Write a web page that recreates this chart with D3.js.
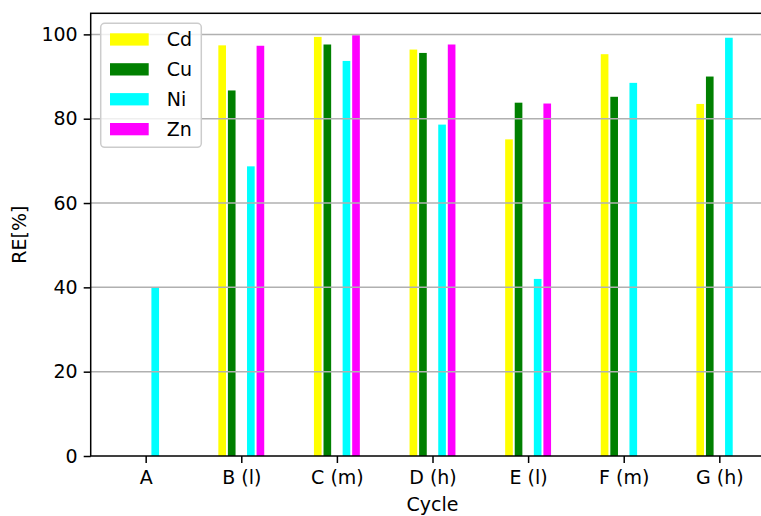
<!DOCTYPE html>
<html>
<head>
<meta charset="utf-8">
<script src="https://cdn.jsdelivr.net/npm/d3@7"></script>
<style>
  html, body { margin: 0; padding: 0; background: #fff; }
  svg { display: block; font-family: "DejaVu Sans", sans-serif; }
</style>
</head>
<body>
<svg id="chart" width="761" height="516"></svg>
<script>
// Removal efficiency per cycle for each metal
const categories = ["A", "B (l)", "C (m)", "D (h)", "E (l)", "F (m)", "G (h)"];
const metals = ["Cd", "Cu", "Ni", "Zn"];
const Cd = [0, 97.4, 99.4, 96.4, 75.1, 95.3, 83.5];
const Cu = [0, 86.7, 97.6, 95.6, 83.8, 85.2, 90.0];
const Ni = [40.0, 68.7, 93.7, 78.6, 42.0, 88.5, 99.2];
const Zn = [0, 97.3, 99.8, 97.6, 83.6, 0, 0];
const yTicks = [0, 20, 40, 60, 80, 100];

const seriesValues = { Cd, Cu, Ni, Zn };
const colors = { Cd: "#ffff00", Cu: "#008000", Ni: "#00ffff", Zn: "#ff00ff" };
const offsets = { Cd: -0.2, Cu: -0.1, Ni: 0.1, Zn: 0.2 };
const barWidth = 0.08;

const svg = d3.select("#chart");
const fontSize = 19;

const plot = { left: 90.7, right: 774.3, top: 13.3, bottom: 456 };

const x = d3.scaleLinear().domain([-0.575, 6.575]).range([plot.left, plot.right]);
const y = d3.scaleLinear().domain([0, 105]).range([plot.bottom, plot.top]);

// Bars
const barData = [];
metals.forEach(m => {
  seriesValues[m].forEach((v, i) => barData.push({ metal: m, i, v }));
});
svg.append("g").selectAll("rect").data(barData).join("rect")
  .attr("x", d => x(d.i + offsets[d.metal] - barWidth / 2))
  .attr("width", d => x(barWidth) - x(0))
  .attr("y", d => y(d.v))
  .attr("height", d => y(0) - y(d.v))
  .attr("fill", d => colors[d.metal]);

// Horizontal grid lines (drawn above the bars)
svg.append("g").selectAll("line").data(yTicks.filter(t => t > 0)).join("line")
  .attr("x1", plot.left).attr("x2", plot.right)
  .attr("y1", d => y(d)).attr("y2", d => y(d))
  .attr("stroke", "#b0b0b0").attr("stroke-width", 1.5);

// Axes
const xAxis = d3.axisBottom(x)
  .tickValues(d3.range(categories.length))
  .tickFormat(i => categories[i])
  .tickSize(7).tickPadding(8);
const gx = svg.append("g").attr("transform", `translate(0,${plot.bottom})`).call(xAxis);

const yAxis = d3.axisLeft(y).tickValues(yTicks).tickSize(7).tickPadding(6);
const gy = svg.append("g").attr("transform", `translate(${plot.left},0)`).call(yAxis);

[gx, gy].forEach(g => {
  g.select(".domain").remove();
  g.selectAll(".tick line").attr("stroke", "#000").attr("stroke-width", 1.5);
  g.selectAll(".tick text")
    .attr("fill", "#000")
    .style("font-size", fontSize + "px")
    .style("font-family", "'DejaVu Sans', sans-serif");
});

// Frame
svg.append("rect")
  .attr("x", plot.left).attr("y", plot.top)
  .attr("width", plot.right - plot.left).attr("height", plot.bottom - plot.top)
  .attr("fill", "none").attr("stroke", "#000").attr("stroke-width", 1.5);

// Axis titles
svg.append("text")
  .attr("x", x(3)).attr("y", 511)
  .attr("text-anchor", "middle")
  .attr("fill", "#000")
  .style("font-size", fontSize + "px")
  .text("Cycle");

svg.append("text")
  .attr("transform", `translate(26,${(plot.top + plot.bottom) / 2}) rotate(-90)`)
  .attr("text-anchor", "middle")
  .attr("fill", "#000")
  .style("font-size", fontSize + "px")
  .text("RE[%]");

// Legend
const legend = svg.append("g").attr("transform", "translate(100.7,23.3)");
legend.append("rect")
  .attr("width", 100.6).attr("height", 124)
  .attr("rx", 4).attr("ry", 4)
  .attr("fill", "#fff").attr("fill-opacity", 0.8)
  .attr("stroke", "#cccccc").attr("stroke-width", 1.5);
const items = legend.selectAll("g.item").data(metals).join("g")
  .attr("class", "item")
  .attr("transform", (d, i) => `translate(0,${10 + i * 29.9})`);
items.append("rect")
  .attr("x", 9.3).attr("width", 38.7).attr("height", 12.3)
  .attr("fill", d => colors[d]);
items.append("text")
  .attr("x", 66).attr("y", 6.2)
  .attr("dy", "0.36em")
  .attr("fill", "#000")
  .style("font-size", fontSize + "px")
  .text(d => d);
</script>
</body>
</html>
